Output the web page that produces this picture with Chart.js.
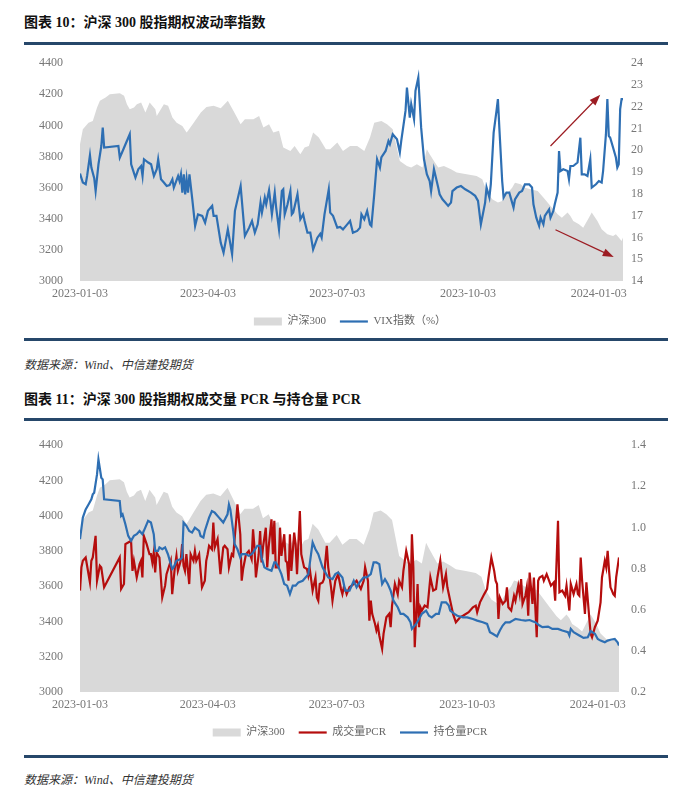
<!DOCTYPE html>
<html>
<head>
<meta charset="utf-8">
<script src="https://cdn.jsdelivr.net/npm/chart.js@4.4.0/dist/chart.umd.min.js"></script>
<style>
  html, body { margin: 0; padding: 0; background: #fff; }
  body { width: 700px; height: 802px; position: relative; overflow: hidden; }
  .title { position: absolute; left: 24px; font: bold 14px "Liberation Serif", "Noto Sans CJK SC", serif; color: #111; }
  .rule { position: absolute; left: 24px; width: 644px; height: 3px; background: #26476a; }
  .source { position: absolute; left: 24px; font: italic 12px "Liberation Serif", "Noto Sans CJK SC", serif; color: #333; }
  .box { position: absolute; left: 0; width: 700px; }
</style>
</head>
<body>
<div class="title" style="top:11px">图表 10：沪深 300 股指期权波动率指数</div>
<div class="rule" style="top:42px"></div>
<div class="box" style="top:39px;height:298px"><canvas id="chart1"></canvas></div>
<div class="rule" style="top:338px"></div>
<div class="source" style="top:355px">数据来源：Wind、中信建投期货</div>
<div class="title" style="top:388px">图表 11：沪深 300 股指期权成交量 PCR 与持仓量 PCR</div>
<div class="rule" style="top:418px"></div>
<div class="box" style="top:421px;height:327px"><canvas id="chart2"></canvas></div>
<div class="rule" style="top:755px"></div>
<div class="source" style="top:770px">数据来源：Wind、中信建投期货</div>

<script>
// x values are calendar days counted from 2023-01-03
const xTickDays = [0, 90, 181, 273, 365];
const xTickLabels = ['2023-01-03', '2023-04-03', '2023-07-03', '2023-10-03', '2024-01-03'];

// 沪深300
const hsDays = [0, 2, 6, 9, 12, 14, 18, 21, 28, 31, 33, 35, 38, 40, 43, 46, 49, 53, 54, 59, 62, 65, 68, 72, 75, 76, 80, 85, 89, 94, 99, 104, 108, 113, 116, 122, 126, 129, 133, 136, 140, 143, 148, 151, 155, 158, 161, 164, 168, 173, 176, 181, 185, 190, 195, 200, 204, 207, 212, 216, 220, 225, 230, 233, 237, 241, 244, 246, 249, 252, 256, 261, 265, 272, 279, 283, 286, 290, 294, 297, 300, 304, 306, 310, 313, 317, 322, 326, 331, 336, 339, 343, 345, 347, 351, 354, 358, 360, 364, 367, 371, 375, 377, 379, 381, 382];
const hs300 = [3879, 3976, 4018, 4029, 4115, 4158, 4179, 4201, 4207, 4190, 4136, 4104, 4115, 4136, 4147, 4083, 4147, 4104, 4061, 4136, 4126, 4051, 4018, 3997, 3954, 3965, 4018, 4083, 4119, 4126, 4111, 4158, 4093, 4008, 4040, 4040, 4061, 3986, 4008, 3954, 3965, 3858, 3836, 3868, 3815, 3858, 3868, 3954, 3922, 3847, 3847, 3890, 3836, 3868, 3868, 3836, 3922, 4018, 4029, 4008, 3976, 3772, 3740, 3729, 3750, 3729, 3847, 3815, 3772, 3729, 3740, 3718, 3697, 3686, 3675, 3654, 3579, 3525, 3504, 3515, 3557, 3600, 3632, 3622, 3600, 3590, 3579, 3536, 3482, 3429, 3407, 3440, 3418, 3386, 3364, 3343, 3407, 3440, 3386, 3332, 3300, 3289, 3300, 3279, 3257, 3279];

// VIX指数（%）
const vixDays = [0, 2, 4, 5, 7, 8, 10, 11, 13, 15, 16, 17, 27, 28, 30, 32, 35, 36, 39, 41, 43, 44, 45, 48, 50, 52, 54, 55, 57, 59, 61, 63, 65, 66, 69, 70, 71, 72, 73, 74, 75, 76, 77, 79, 81, 83, 86, 88, 90, 93, 94, 96, 99, 101, 104, 107, 109, 113, 116, 119, 121, 123, 125, 127, 128, 130, 131, 133, 135, 137, 138, 140, 142, 143, 144, 146, 148, 149, 150, 153, 155, 157, 158, 160, 162, 164, 167, 169, 170, 172, 175, 176, 178, 181, 183, 185, 188, 190, 192, 195, 197, 198, 200, 202, 204, 205, 207, 209, 211, 212, 215, 217, 218, 220, 223, 225, 226, 229, 230, 232, 233, 235, 236, 238, 240, 242, 244, 246, 247, 249, 252, 253, 255, 257, 259, 261, 262, 265, 268, 271, 275, 278, 280, 282, 285, 286, 288, 289, 291, 293, 294, 295, 297, 298, 300, 302, 303, 305, 306, 309, 311, 313, 316, 318, 319, 321, 323, 324, 326, 327, 330, 331, 333, 334, 336, 337, 338, 340, 343, 344, 345, 347, 350, 352, 353, 355, 357, 359, 360, 363, 365, 367, 368, 370, 371, 372, 373, 375, 377, 378, 379, 380, 381, 382];
const vix = [18.93, 18.52, 18.44, 18.82, 19.77, 19.21, 18.72, 18.13, 19.36, 20.2, 21.04, 20.13, 20.2, 19.67, 19.97, 20.28, 20.74, 19.36, 18.75, 19.13, 19.28, 18.82, 19.59, 19.44, 19.36, 18.82, 19.13, 19.59, 18.67, 18.52, 18.36, 18.4, 18.67, 18.29, 18.82, 18.59, 18.9, 18.06, 18.9, 17.98, 18.67, 18.06, 18.9, 17.75, 16.53, 17.06, 16.99, 16.68, 17.22, 17.45, 16.99, 16.99, 15.76, 15.3, 16.37, 15.23, 17.22, 18.36, 16.07, 16.45, 16.76, 16.22, 16.6, 17.6, 17.14, 17.83, 17.52, 18.17, 17.06, 18.06, 17.37, 16.37, 18.13, 18.21, 17.06, 17.52, 18.13, 17.06, 17.14, 17.98, 16.83, 17.06, 16.76, 16.22, 16.22, 15.45, 15.99, 16.17, 15.99, 17.06, 18.21, 17.14, 16.99, 16.45, 16.48, 16.37, 16.6, 16.76, 16.22, 16.3, 16.45, 17.06, 16.83, 17.22, 16.6, 16.53, 17.98, 19.59, 19.21, 19.67, 19.97, 20.43, 20.28, 20.74, 20.51, 19.9, 20.43, 21.81, 22.88, 21.5, 22.12, 21.43, 22.73, 23.34, 21.04, 19.59, 18.9, 18.59, 18.13, 19.13, 18.29, 17.98, 17.75, 17.6, 17.45, 17.6, 18.13, 18.29, 18.36, 18.21, 18.06, 17.91, 17.68, 16.6, 17.6, 18.29, 17.83, 18.44, 20.81, 21.81, 22.35, 21.04, 18.59, 17.83, 18.06, 18.06, 17.83, 17.37, 17.75, 18.06, 18.13, 18.44, 18.44, 18.29, 17.52, 16.91, 16.53, 16.91, 16.6, 16.99, 17.29, 16.91, 17.22, 17.52, 18.06, 19.97, 19.05, 19.13, 19.05, 18.67, 19.28, 19.28, 19.44, 20.58, 18.9, 18.9, 18.82, 19.59, 18.29, 18.44, 18.59, 18.52, 19.05, 20.74, 22.35, 20.66, 20.58, 20.13, 19.67, 19.21, 19.36, 21.89, 22.35, 22.35];

// 成交量PCR
const volDays = [0, 1, 2, 4, 5, 7, 8, 9, 11, 12, 14, 15, 17, 28, 29, 31, 32, 34, 36, 37, 38, 40, 42, 43, 44, 45, 47, 49, 50, 51, 52, 53, 54, 56, 58, 60, 61, 64, 65, 67, 68, 69, 71, 72, 73, 74, 75, 77, 78, 80, 81, 82, 84, 86, 88, 89, 90, 91, 93, 94, 95, 97, 99, 101, 102, 104, 105, 107, 108, 110, 111, 113, 114, 115, 117, 119, 121, 122, 123, 124, 126, 127, 128, 129, 131, 132, 133, 135, 136, 137, 138, 140, 141, 142, 144, 145, 146, 147, 148, 149, 151, 152, 153, 155, 156, 158, 160, 161, 162, 164, 166, 167, 168, 169, 171, 172, 173, 174, 175, 177, 178, 179, 180, 181, 182, 184, 185, 186, 187, 188, 190, 193, 195, 198, 200, 201, 203, 204, 205, 206, 208, 209, 210, 211, 213, 214, 216, 218, 219, 220, 222, 224, 225, 227, 228, 230, 232, 233, 234, 235, 236, 238, 239, 240, 241, 243, 245, 247, 249, 251, 252, 254, 256, 258, 259, 261, 262, 263, 265, 268, 270, 274, 277, 279, 280, 282, 285, 287, 288, 290, 292, 293, 294, 295, 296, 298, 300, 301, 302, 304, 306, 307, 309, 310, 311, 312, 314, 315, 316, 317, 319, 320, 322, 323, 324, 326, 327, 329, 332, 334, 335, 337, 338, 340, 342, 343, 345, 346, 348, 350, 351, 352, 353, 354, 356, 357, 359, 360, 361, 363, 365, 367, 368, 370, 371, 372, 373, 374, 375, 376, 377, 378, 380];
const pcrVol = [0.693, 0.806, 0.838, 0.854, 0.814, 0.733, 0.838, 0.854, 0.959, 0.741, 0.814, 0.806, 0.709, 0.854, 0.701, 0.725, 0.919, 0.927, 0.935, 0.789, 0.838, 0.757, 0.822, 0.838, 0.757, 0.959, 0.919, 0.87, 0.87, 0.83, 0.878, 0.781, 0.878, 0.854, 0.66, 0.717, 0.773, 0.838, 0.676, 0.814, 0.862, 0.789, 0.838, 0.919, 0.814, 0.789, 0.87, 0.725, 0.87, 0.838, 0.886, 0.838, 0.87, 0.709, 0.741, 0.838, 0.87, 0.911, 0.894, 1.024, 0.903, 0.943, 0.773, 0.903, 0.911, 0.894, 0.806, 0.87, 0.862, 1.024, 1.112, 0.967, 0.741, 0.798, 0.87, 0.886, 0.846, 0.991, 0.903, 0.757, 0.87, 0.983, 0.83, 0.903, 0.999, 0.806, 0.903, 1.04, 0.87, 1.032, 0.806, 0.806, 0.999, 0.862, 0.967, 0.838, 0.83, 0.741, 0.967, 0.789, 0.975, 0.919, 0.773, 1.08, 0.87, 0.806, 0.798, 0.765, 0.798, 0.693, 0.757, 0.66, 0.644, 0.725, 0.733, 0.749, 0.838, 0.911, 0.806, 0.709, 0.644, 0.693, 0.741, 0.757, 0.773, 0.701, 0.676, 0.709, 0.701, 0.676, 0.709, 0.725, 0.741, 0.701, 0.741, 0.806, 0.741, 0.547, 0.644, 0.58, 0.531, 0.499, 0.523, 0.475, 0.41, 0.483, 0.563, 0.58, 0.515, 0.62, 0.725, 0.676, 0.741, 0.709, 0.789, 0.886, 0.822, 0.636, 0.967, 0.806, 0.418, 0.725, 0.515, 0.612, 0.596, 0.62, 0.612, 0.757, 0.693, 0.701, 0.757, 0.838, 0.709, 0.773, 0.709, 0.644, 0.612, 0.58, 0.539, 0.563, 0.571, 0.588, 0.612, 0.62, 0.588, 0.636, 0.676, 0.701, 0.757, 0.854, 0.789, 0.741, 0.725, 0.555, 0.66, 0.628, 0.644, 0.709, 0.612, 0.596, 0.668, 0.644, 0.717, 0.676, 0.749, 0.628, 0.668, 0.709, 0.571, 0.781, 0.628, 0.757, 0.466, 0.741, 0.757, 0.765, 0.741, 0.773, 0.717, 0.733, 0.644, 1.032, 0.685, 0.693, 0.668, 0.717, 0.596, 0.725, 0.676, 0.725, 0.676, 0.668, 0.854, 0.741, 0.58, 0.733, 0.563, 0.483, 0.466, 0.515, 0.547, 0.636, 0.757, 0.838, 0.806, 0.886, 0.789, 0.709, 0.693, 0.676, 0.668, 0.757, 0.854];

// 持仓量PCR
const oiDays = [0, 2, 4, 6, 8, 9, 10, 12, 13, 15, 16, 17, 28, 29, 30, 32, 34, 36, 38, 40, 42, 44, 46, 48, 50, 52, 53, 55, 56, 58, 60, 62, 64, 65, 66, 68, 71, 72, 73, 75, 77, 79, 81, 84, 85, 87, 88, 91, 93, 95, 98, 99, 101, 104, 105, 106, 108, 109, 111, 113, 114, 117, 119, 121, 122, 125, 127, 128, 130, 132, 135, 137, 138, 140, 142, 144, 146, 148, 150, 152, 154, 157, 159, 161, 164, 166, 168, 171, 173, 175, 178, 180, 182, 185, 187, 190, 193, 195, 197, 200, 202, 205, 207, 209, 211, 213, 215, 217, 219, 221, 224, 226, 228, 231, 233, 234, 237, 239, 241, 244, 246, 248, 251, 253, 255, 258, 260, 261, 264, 266, 270, 273, 277, 280, 284, 287, 289, 291, 294, 296, 298, 300, 303, 305, 307, 311, 314, 317, 319, 321, 324, 326, 330, 333, 337, 340, 344, 345, 346, 348, 352, 355, 358, 360, 363, 365, 367, 370, 372, 374, 377, 379, 380];
const pcrOi = [0.943, 1.048, 1.088, 1.112, 1.137, 1.161, 1.169, 1.258, 1.331, 1.242, 1.234, 1.137, 1.129, 1.056, 1.064, 1.016, 0.959, 0.935, 0.959, 0.967, 0.983, 0.967, 0.999, 1.032, 1.024, 0.967, 0.886, 0.886, 0.903, 0.894, 0.903, 0.87, 0.822, 0.798, 0.806, 0.838, 0.846, 0.854, 1.024, 1.008, 0.983, 0.975, 0.999, 0.983, 0.959, 0.951, 0.983, 1.048, 1.08, 1.072, 1.048, 1.04, 1.024, 1.064, 1.112, 1.088, 0.983, 0.919, 0.894, 0.854, 0.87, 0.87, 0.862, 0.87, 0.878, 0.911, 0.911, 0.854, 0.806, 0.798, 0.789, 0.83, 0.83, 0.806, 0.773, 0.725, 0.717, 0.676, 0.717, 0.717, 0.733, 0.741, 0.757, 0.773, 0.927, 0.894, 0.87, 0.806, 0.781, 0.757, 0.749, 0.773, 0.781, 0.757, 0.693, 0.693, 0.741, 0.709, 0.733, 0.757, 0.757, 0.773, 0.83, 0.83, 0.822, 0.725, 0.749, 0.725, 0.693, 0.644, 0.612, 0.58, 0.58, 0.563, 0.539, 0.507, 0.531, 0.555, 0.58, 0.596, 0.571, 0.563, 0.58, 0.58, 0.636, 0.636, 0.62, 0.596, 0.58, 0.571, 0.563, 0.563, 0.555, 0.547, 0.539, 0.531, 0.491, 0.483, 0.47, 0.499, 0.523, 0.539, 0.539, 0.547, 0.555, 0.55, 0.547, 0.55, 0.544, 0.539, 0.523, 0.515, 0.518, 0.507, 0.507, 0.499, 0.491, 0.475, 0.507, 0.491, 0.475, 0.463, 0.466, 0.496, 0.483, 0.458, 0.45, 0.442, 0.45, 0.454, 0.458, 0.442, 0.426];

// two arrows drawn on chart 1, in data units (day, VIX)
const arrows = [
  { x0: 331, y0: 20.2, x1: 366, y1: 22.55 },
  { x0: 334.5, y0: 16.35, x1: 375.5, y1: 15.1 }
];

const tickFont = { family: "'Liberation Serif', serif", size: 12 };
const tickColor = '#777';
const pts = (xs, ys) => xs.map((x, i) => ({ x: x, y: ys[i] }));

function xScale(maxDay) {
  return {
    type: 'linear',
    min: 0,
    max: maxDay,
    grid: { display: false, drawTicks: false },
    border: { display: false },
    afterBuildTicks: s => { s.ticks = xTickDays.map(v => ({ value: v })); },
    afterFit: s => { s.height = 21; },
    ticks: {
      autoSkip: false,
      maxRotation: 0,
      padding: 6,
      font: tickFont,
      color: tickColor,
      callback: v => xTickLabels[xTickDays.indexOf(v)]
    }
  };
}

function yScale(pos, min, max, step, width, pad, fmt) {
  return {
    position: pos,
    min: min,
    max: max,
    grid: { display: false, drawTicks: false },
    border: { display: false },
    afterFit: s => { s.width = width; },
    ticks: { stepSize: step, padding: pad, font: tickFont, color: tickColor, callback: fmt }
  };
}

const legendOpts = {
  position: 'bottom',
  labels: {
    usePointStyle: true,
    pointStyleWidth: 28,
    boxHeight: 8,
    padding: 14,
    color: '#666',
    font: { family: "'Liberation Serif', 'Noto Sans CJK SC', serif", size: 11 },
    sort: (a, b) => a.datasetIndex - b.datasetIndex
  }
};

const areaSet = {
  label: '沪深300',
  data: pts(hsDays, hs300),
  yAxisID: 'y',
  fill: 'start',
  backgroundColor: '#d9d9d9',
  borderWidth: 0,
  pointRadius: 0,
  pointStyle: 'rect',
  order: 3
};

const arrowPlugin = {
  id: 'arrows',
  afterDatasetsDraw(chart) {
    const ctx = chart.ctx, xs = chart.scales.x, ys = chart.scales.y2;
    ctx.save();
    ctx.strokeStyle = '#9c1c22';
    ctx.fillStyle = '#9c1c22';
    ctx.lineWidth = 1.2;
    arrows.forEach(a => {
      const x0 = xs.getPixelForValue(a.x0), y0 = ys.getPixelForValue(a.y0);
      const x1 = xs.getPixelForValue(a.x1), y1 = ys.getPixelForValue(a.y1);
      const ang = Math.atan2(y1 - y0, x1 - x0);
      ctx.beginPath();
      ctx.moveTo(x0, y0);
      ctx.lineTo(x1 - 8 * Math.cos(ang), y1 - 8 * Math.sin(ang));
      ctx.stroke();
      ctx.beginPath();
      ctx.moveTo(x1, y1);
      ctx.lineTo(x1 - 11 * Math.cos(ang) + 4 * Math.sin(ang), y1 - 11 * Math.sin(ang) - 4 * Math.cos(ang));
      ctx.lineTo(x1 - 11 * Math.cos(ang) - 4 * Math.sin(ang), y1 - 11 * Math.sin(ang) + 4 * Math.cos(ang));
      ctx.closePath();
      ctx.fill();
    });
    ctx.restore();
  }
};

// chart 1

new Chart(document.getElementById('chart1'), {
  type: 'line',
  data: {
    datasets: [
      areaSet,
      {
        label: 'VIX指数（%）',
        data: pts(vixDays, vix),
        yAxisID: 'y2',
        borderColor: '#2e6fb3',
        borderWidth: 2.2,
        pointRadius: 0,
        pointStyle: 'line',
        order: 1
      }
    ]
  },
  options: {
    animation: false,
    responsive: true,
    maintainAspectRatio: false,
    layout: { padding: 0 },
    scales: {
      x: xScale(382),
      y: yScale('left', 3000, 4400, 200, 80, 17),
      y2: yScale('right', 14, 24, 1, 77, 8)
    },
    plugins: { legend: legendOpts, tooltip: { enabled: false } }
  },
  plugins: [arrowPlugin]
});

// chart 2

new Chart(document.getElementById('chart2'), {
  type: 'line',
  data: {
    datasets: [
      Object.assign({}, areaSet, { data: pts(hsDays, hs300) }),
      {
        label: '成交量PCR',
        data: pts(volDays, pcrVol),
        yAxisID: 'y2',
        borderColor: '#b50d0d',
        borderWidth: 2.2,
        pointRadius: 0,
        pointStyle: 'line',
        order: 2
      },
      {
        label: '持仓量PCR',
        data: pts(oiDays, pcrOi),
        yAxisID: 'y2',
        borderColor: '#2e6fb3',
        borderWidth: 2.2,
        pointRadius: 0,
        pointStyle: 'line',
        order: 1
      }
    ]
  },
  options: {
    animation: false,
    responsive: true,
    maintainAspectRatio: false,
    layout: { padding: 0 },
    scales: {
      x: xScale(380),
      y: yScale('left', 3000, 4400, 200, 80, 17),
      y2: yScale('right', 0.2, 1.4, 0.2, 81, 12, v => v.toFixed(1))
    },
    plugins: { legend: legendOpts, tooltip: { enabled: false } }
  }
});
</script>
</body>
</html>
